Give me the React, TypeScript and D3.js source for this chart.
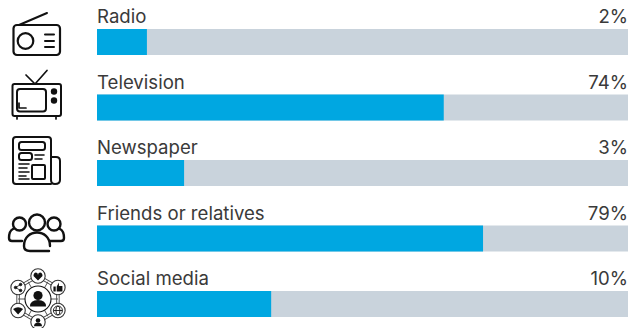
import React from "react";
import * as d3 from "d3";

const categories = ["Radio", "Television", "Newspaper", "Friends or relatives", "Social media"];
const shares = [2, 74, 3, 79, 10];

// The printed bar lengths are not proportional to the printed percentages,
// so the percent axis is an explicit non-linear scale rather than a linear one.
const percentStops = [0, 2, 3, 10, 74, 79, 100];
const trackFractions = [0, 0.094, 0.164, 0.328, 0.653, 0.727, 1];

const WIDTH = 642;
const HEIGHT = 328;
const BAR_LEFT = 97;
const BAR_RIGHT = 628;
const BAR_HEIGHT = 26;
const BLUE = "#00a7e1";
const TRACK = "#c9d3dc";
const INK = "#3a3a3a";
const ICON = "#111111";

const fraction = d3.scaleLinear().domain(percentStops).range(trackFractions);
const x = d3.scaleLinear().domain([0, 1]).range([BAR_LEFT, BAR_RIGHT]);
const y = d3.scalePoint<string>().domain(categories).range([29, 291]);

const outline = { fill: "none", stroke: ICON, strokeWidth: 2, strokeLinecap: "round" as const, strokeLinejoin: "round" as const };

function RadioIcon() {
  return (
    <g {...outline}>
      <rect x={13.5} y={25} width={46.5} height={30} rx={3.5} strokeWidth={2.2} />
      <circle cx={25.5} cy={41} r={7.8} strokeWidth={2.2} />
      <path d="M19 25 L47 13 M45 34.5 H54 M45 41 H54 M45 47 H54" />
    </g>
  );
}

function TelevisionIcon() {
  return (
    <g {...outline}>
      <rect x={12.5} y={84} width={48.5} height={32} rx={2} />
      <rect x={17} y={89} width={29} height={22.5} rx={3} />
      <path d="M26 75 L35 84 L47 70.5 M19 103 V108 H26 M17 116 V119 M56 116 V119" strokeWidth={1.7} />
      <circle cx={54} cy={91.5} r={3.2} fill={ICON} stroke="none" />
      <circle cx={54} cy={100.5} r={3.2} fill={ICON} stroke="none" />
    </g>
  );
}

function NewspaperIcon() {
  return (
    <g {...outline}>
      <path d="M51 184 H16 Q13 184 13 181 V140 Q13 137 16 137 H48 Q51 137 51 140 V180 Q51 184 55 184 Q60 184 60 180 V161 Q60 157 56 157 H51" />
      <rect x={19} y={142} width={26} height={8} rx={2.5} />
      <rect x={19} y={153} width={13} height={7} rx={2.5} />
      <rect x={32} y={165} width={13} height={14} rx={1} />
      <path d="M35 155 H44 M35 159 H42 M19 164 H29 M19 168 H27 M19 172 H29 M19 176 H26 M19 179 H29" strokeWidth={1.6} />
    </g>
  );
}

function FriendsIcon() {
  return (
    <g {...outline} strokeWidth={2.4}>
      <circle cx={37} cy={222.5} r={8} />
      <circle cx={19.5} cy={224} r={6.5} />
      <circle cx={54} cy={224} r={6.5} />
      <path d="M13 229 C9 231 9 236 9 238 Q9 241 12 241 H22" />
      <path d="M60 229 C64 231 64 236 64 238 Q64 241 61 241 H50" />
      <path d="M49 251 H30 Q24 251 24 246 C24 228 50 228 50 246" />
    </g>
  );
}

function SocialIcon() {
  const cx = 38;
  const cy = 299;
  const ring = 23;
  const angles = d3.range(6).map((i) => -Math.PI / 2 + (i * Math.PI) / 3);
  const nodes = angles.map((a) => [cx + ring * Math.cos(a), cy + ring * Math.sin(a)] as [number, number]);
  const hexagon = d3.line().curve(d3.curveLinearClosed);
  return (
    <g>
      <path d={hexagon(nodes) ?? ""} fill="none" stroke="#444" strokeWidth={3.4} />
      <path d={hexagon(nodes) ?? ""} fill="none" stroke="#fff" strokeWidth={1.6} />
      {angles.map((a, i) => (
        <line key={i} x1={cx + 12 * Math.cos(a + Math.PI / 6)} y1={cy + 12 * Math.sin(a + Math.PI / 6)}
          x2={cx + 20 * Math.cos(a + Math.PI / 6)} y2={cy + 20 * Math.sin(a + Math.PI / 6)} stroke="#555" strokeWidth={1} />
      ))}
      <circle cx={cx} cy={cy} r={13} fill="#fff" stroke={ICON} strokeWidth={1.1} />
      <circle cx={cx} cy={cy - 3.5} r={4.6} fill={ICON} />
      <path d={`M${cx - 8} ${cy + 7.5} Q${cx - 8} ${cy + 1} ${cx} ${cy + 1} Q${cx + 8} ${cy + 1} ${cx + 8} ${cy + 7.5} Z`} fill={ICON} />
      {nodes.map(([nx, ny], i) => (
        <g key={i}>
          <circle cx={nx} cy={ny} r={7.2} fill="#fff" stroke="#333" strokeWidth={1.1} />
          {i === 0 && <path d={`M${nx} ${ny + 4.5} L${nx - 4.5} ${ny} Q${nx - 4.5} ${ny - 3.5} ${nx - 2} ${ny - 3.5} Q${nx} ${ny - 3.5} ${nx} ${ny - 1} Q${nx} ${ny - 3.5} ${nx + 2} ${ny - 3.5} Q${nx + 4.5} ${ny - 3.5} ${nx + 4.5} ${ny} Z`} fill={ICON} />}
          {i === 1 && <path d={`M${nx - 4.5} ${ny - 1} H${nx - 2.2} V${ny + 4} H${nx - 4.5} Z M${nx - 1.2} ${ny - 1} L${nx + 1} ${ny - 5} V${ny - 1.5} H${nx + 4.5} V${ny + 4} H${nx - 1.2} Z`} fill={ICON} />}
          {i === 2 && (
            <g fill="none" stroke={ICON} strokeWidth={0.9}>
              <circle cx={nx} cy={ny} r={4.5} />
              <ellipse cx={nx} cy={ny} rx={2} ry={4.5} />
              <path d={`M${nx - 4.5} ${ny} H${nx + 4.5}`} />
            </g>
          )}
          {i === 3 && (
            <g fill={ICON}>
              <circle cx={nx} cy={ny - 1.5} r={2.3} />
              <path d={`M${nx - 4} ${ny + 4.2} Q${nx - 4} ${ny + 0.8} ${nx} ${ny + 0.8} Q${nx + 4} ${ny + 0.8} ${nx + 4} ${ny + 4.2} Z`} />
            </g>
          )}
          {i === 4 && <path d={`M${nx - 5} ${ny - 1.5} Q${nx} ${ny - 5} ${nx + 5} ${ny - 1.5} L${nx} ${ny + 4} Z`} fill={ICON} />}
          {i === 5 && (
            <g fill={ICON} stroke={ICON} strokeWidth={0.8}>
              <path d={`M${nx + 2.5} ${ny - 3} L${nx - 2.5} ${ny} L${nx + 2.5} ${ny + 3}`} fill="none" />
              <circle cx={nx + 2.5} cy={ny - 3} r={1.3} />
              <circle cx={nx - 2.5} cy={ny} r={1.3} />
              <circle cx={nx + 2.5} cy={ny + 3} r={1.3} />
            </g>
          )}
        </g>
      ))}
    </g>
  );
}

const icons = [RadioIcon, TelevisionIcon, NewspaperIcon, FriendsIcon, SocialIcon];

export default function App() {
  return (
    <svg width={WIDTH} height={HEIGHT} viewBox={`0 0 ${WIDTH} ${HEIGHT}`}
      style={{ position: "fixed", left: 0, top: 0, background: "#fff" }}>
      {icons.map((Icon, i) => <Icon key={i} />)}
      {categories.map((name, i) => {
        const top = y(name) ?? 0;
        return (
          <g key={name}>
            <rect x={x(0)} y={top} width={x(1) - x(0)} height={BAR_HEIGHT} fill={TRACK} />
            <rect x={x(0)} y={top} width={x(fraction(shares[i])) - x(0)} height={BAR_HEIGHT} fill={BLUE} />
            <text x={BAR_LEFT} y={top - 6} fontFamily="Inter" fontSize={18.6} fill={INK}>{name}</text>
            <text x={BAR_RIGHT} y={top - 6} textAnchor="end" fontFamily="Inter" fontSize={18.6} fill={INK}>{`${shares[i]}%`}</text>
          </g>
        );
      })}
    </svg>
  );
}
